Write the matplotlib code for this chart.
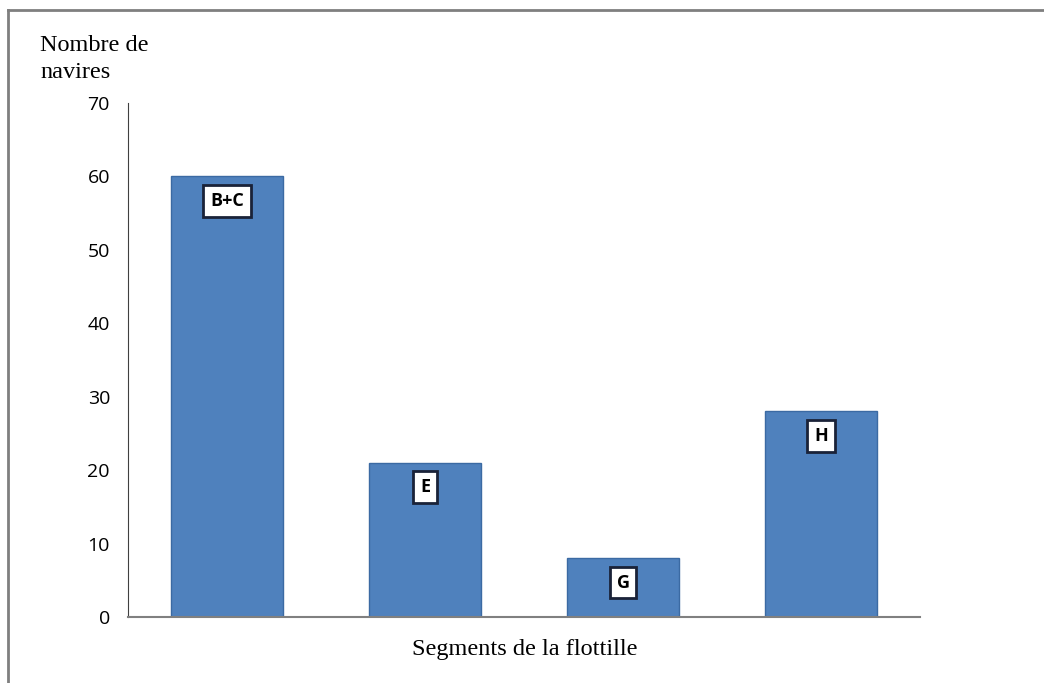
import matplotlib.pyplot as plt
from matplotlib.lines import Line2D
import numpy as np

# data
segments = ["B+C", "E", "G", "H"]
navires = [60, 21, 8, 28]
yticks = [0, 10, 20, 30, 40, 50, 60, 70]

fig = plt.figure(figsize=(10.44, 6.83), dpi=100)
ax = fig.add_axes([128 / 1044, 1 - 617 / 683, (920 - 128) / 1044, (617 - 103) / 683])

x = np.arange(len(segments))
ax.bar(x, navires, width=0.57, color="#4f81bd", edgecolor="#3b6aa3", linewidth=1)

for xi, v, lab in zip(x, navires, segments):
    ax.annotate(lab, (xi, v), xytext=(0, -17.5), textcoords="offset points",
                ha="center", va="center", fontsize=13, fontweight="bold",
                family="Open Sans",
                bbox=dict(boxstyle="square,pad=0.38", fc="white", ec="#1a2238", lw=2))

ax.set_xlim(-0.5, len(segments) - 0.5)
ax.set_ylim(0, 70)
ax.set_yticks(yticks)
ax.set_xticks([])
ax.tick_params(axis="y", length=0, pad=13, labelsize=14)
for t in ax.get_yticklabels():
    t.set_family("Open Sans")
for s in ["top", "right"]:
    ax.spines[s].set_visible(False)
ax.spines["left"].set_color("#404040")
ax.spines["bottom"].set_color("#808080")
ax.spines["bottom"].set_linewidth(1.5)

fig.text(40 / 1044, 1 - 59 / 683, "Nombre de\nnavires", family="Liberation Serif",
         fontsize=17.5, ha="left", va="center", linespacing=1.35)
fig.text(525 / 1044, 1 - 650 / 683, "Segments de la flottille", family="Liberation Serif",
         fontsize=17.5, ha="center", va="center")

# outer frame (only left and top edges show)
fig.add_artist(Line2D([8 / 1044, 8 / 1044], [0, 1 - 10 / 683], color="#7f7f7f", lw=2,
                      transform=fig.transFigure))
fig.add_artist(Line2D([8 / 1044, 1], [1 - 10 / 683, 1 - 10 / 683], color="#7f7f7f", lw=2,
                      transform=fig.transFigure))

plt.savefig("out.png")
